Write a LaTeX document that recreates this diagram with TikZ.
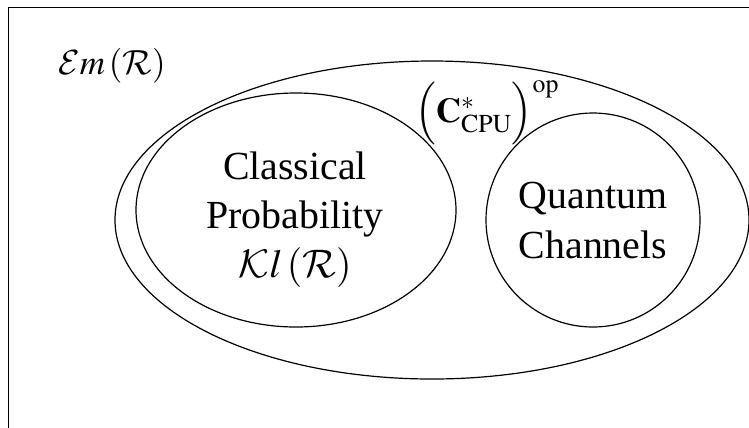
\documentclass[tikz,border=0pt]{standalone}
\usepackage{mathptmx}
\usepackage{fontspec}
\setmainfont{Liberation Serif}
% scalable calligraphic capitals
\DeclareFontFamily{OMS}{calscaled}{\skewchar\font=48}
\DeclareFontShape{OMS}{calscaled}{m}{n}{<-> cmsy10}{}
\DeclareMathAlphabet{\mathcal}{OMS}{calscaled}{m}{n}
\usetikzlibrary{shapes.geometric}
\begin{document}
\begin{tikzpicture}[x=1bp,y=-1bp,line width=1.2bp,
  region/.style={draw,inner sep=0pt,outer sep=0pt},
  bigtext/.style={inner sep=0pt,align=center,font=\fontsize{40}{49.5}\selectfont},
  mathlabel/.style={inner sep=0pt,font=\fontsize{35}{42}\selectfont}]
  \useasboundingbox (0,0) rectangle (749,427);
  \clip (0,0) rectangle (749,427);
  % frame of the whole category
  \draw[line width=1.4bp] (8.5,7.5) rectangle (800,480);
  % nested regions
  \node[region,ellipse,minimum width=634bp,minimum height=318bp] (em) at (432,220) {};
  \node[region,ellipse,minimum width=320bp,minimum height=234bp] (kl) at (296,210) {};
  \node[region,circle,minimum size=214bp] (qc) at (593,220) {};
  % labels
  \node[mathlabel] (emlabel) at (112,66) {$\mathcal{E}m\,(\mathcal{R})$};
  \node[mathlabel] (cpulabel) at (487,113) {$\Bigl(\mathbf{C}^*_{\mathrm{CPU}}\Bigr)^{\mathrm{op}}$};
  \node[bigtext,anchor=north] (kltext) at (295,151) {Classical\\Probability\\$\mathcal{K}l\,(\mathcal{R})$};
  \node[bigtext,anchor=north] (qctext) at (593,182) {Quantum\\Channels};
\end{tikzpicture}
\end{document}
